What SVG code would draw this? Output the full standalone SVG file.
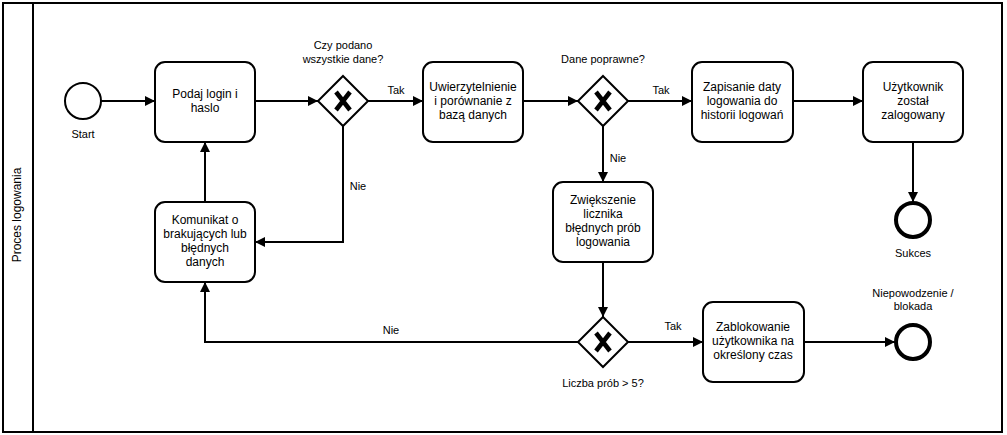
<svg xmlns="http://www.w3.org/2000/svg" width="1007" height="435" viewBox="0 0 1007 435">
<style>
text{font-family:"Liberation Sans",Arial,sans-serif;fill:#000;text-anchor:middle}
.t{font-size:12px}
.l{font-size:11px}
.task{fill:#fff;stroke:#000;stroke-width:2}
.gw{fill:#fff;stroke:#000;stroke-width:2}
.x{stroke:#000;stroke-width:4.5;stroke-linecap:butt;fill:none}
.start{fill:#fff;stroke:#000;stroke-width:2}
.end{fill:#fff;stroke:#000;stroke-width:4}
.c{fill:none;stroke:#000;stroke-width:2}
</style>
<defs>
<marker id="a" viewBox="0 0 10 10" refX="10" refY="5" markerWidth="5" markerHeight="5" markerUnits="strokeWidth" orient="auto">
<path d="M0,0 L10,5 L0,10 Z" fill="#000"/>
</marker>
<g id="xmark"><path class="x" d="M-7,-9 L7,9 M7,-9 L-7,9"/></g>
</defs>
<rect width="1007" height="435" fill="#fff"/>
<g id="pool">
<rect x="3" y="3" width="999" height="429" fill="none" stroke="#000" stroke-width="2"/>
<line x1="33" y1="3" x2="33" y2="432" stroke="#000" stroke-width="2"/>
<text class="t" transform="translate(21,215) rotate(-90)">Proces logowania</text>
</g>
<g id="connectors">
<path class="c" d="M101,101 L155,101" marker-end="url(#a)"/>
<path class="c" d="M255,101 L318,101" marker-end="url(#a)"/>
<path class="c" d="M368,101 L423,101" marker-end="url(#a)"/>
<text class="l" x="396" y="94">Tak</text>
<path class="c" d="M523,101 L578,101" marker-end="url(#a)"/>
<path class="c" d="M628,101 L692,101" marker-end="url(#a)"/>
<text class="l" x="661" y="94">Tak</text>
<path class="c" d="M793,101 L863,101" marker-end="url(#a)"/>
<path class="c" d="M913,142 L913,202" marker-end="url(#a)"/>
<path class="c" d="M603,126 L603,182" marker-end="url(#a)"/>
<text class="l" x="618" y="162">Nie</text>
<path class="c" d="M343,126 L343,242 L255,242" marker-end="url(#a)"/>
<text class="l" x="358" y="190">Nie</text>
<path class="c" d="M205,202 L205,142" marker-end="url(#a)"/>
<path class="c" d="M603,262 L603,317" marker-end="url(#a)"/>
<path class="c" d="M578,342 L205,342 L205,282" marker-end="url(#a)"/>
<text class="l" x="391" y="334">Nie</text>
<path class="c" d="M628,342 L703,342" marker-end="url(#a)"/>
<text class="l" x="673" y="330">Tak</text>
<path class="c" d="M804,342 L895,342" marker-end="url(#a)"/>
</g>
<g id="start">
<circle class="start" cx="83" cy="101" r="18"/>
<text class="l" x="83" y="138">Start</text>
</g>
<g id="task_podaj">
<rect class="task" x="155" y="62" width="100" height="80" rx="10"/>
<text class="t" x="205" y="98">Podaj login i</text>
<text class="t" x="205" y="112">haslo</text>
</g>
<g id="gw_dane">
<path class="gw" d="M343,76 L368,101 L343,126 L318,101 Z"/>
<use href="#xmark" x="343" y="101"/>
<text class="l" x="343" y="49">Czy podano</text>
<text class="l" x="343" y="63">wszystkie dane?</text>
</g>
<g id="task_uwierz">
<rect class="task" x="423" y="62" width="100" height="80" rx="10"/>
<text class="t" x="473" y="91">Uwierzytelnienie</text>
<text class="t" x="473" y="105">i porównanie z</text>
<text class="t" x="473" y="119">bazą danych</text>
</g>
<g id="gw_poprawne">
<path class="gw" d="M603,76 L628,101 L603,126 L578,101 Z"/>
<use href="#xmark" x="603" y="101"/>
<text class="l" x="603" y="63">Dane poprawne?</text>
</g>
<g id="task_zapis">
<rect class="task" x="692" y="62" width="101" height="80" rx="10"/>
<text class="t" x="742" y="91">Zapisanie daty</text>
<text class="t" x="742" y="105">logowania do</text>
<text class="t" x="742" y="119">historii logowań</text>
</g>
<g id="task_zalogowany">
<rect class="task" x="863" y="62" width="100" height="80" rx="10"/>
<text class="t" x="913" y="91">Użytkownik</text>
<text class="t" x="913" y="105">został</text>
<text class="t" x="913" y="119">zalogowany</text>
</g>
<g id="end_sukces">
<circle class="end" cx="913" cy="220" r="17"/>
<text class="l" x="913" y="257">Sukces</text>
</g>
<g id="task_zwieksz">
<rect class="task" x="553" y="182" width="100" height="80" rx="10"/>
<text class="t" x="603" y="204">Zwiększenie</text>
<text class="t" x="603" y="218">licznika</text>
<text class="t" x="603" y="232">błędnych prób</text>
<text class="t" x="603" y="246">logowania</text>
</g>
<g id="task_komunikat">
<rect class="task" x="155" y="202" width="100" height="80" rx="10"/>
<text class="t" x="205" y="224">Komunikat o</text>
<text class="t" x="205" y="238">brakujących lub</text>
<text class="t" x="205" y="252">błędnych</text>
<text class="t" x="205" y="266">danych</text>
</g>
<g id="gw_liczba">
<path class="gw" d="M603,317 L628,342 L603,367 L578,342 Z"/>
<use href="#xmark" x="603" y="342"/>
<text class="l" x="603" y="387">Liczba prób &gt; 5?</text>
</g>
<g id="task_blokada">
<rect class="task" x="703" y="302" width="101" height="80" rx="10"/>
<text class="t" x="753" y="331">Zablokowanie</text>
<text class="t" x="753" y="345">użytkownika na</text>
<text class="t" x="753" y="359">określony czas</text>
</g>
<g id="end_blokada">
<circle class="end" cx="913" cy="342" r="17"/>
<text class="l" x="913" y="297">Niepowodzenie /</text>
<text class="l" x="913" y="310">blokada</text>
</g>
</svg>
